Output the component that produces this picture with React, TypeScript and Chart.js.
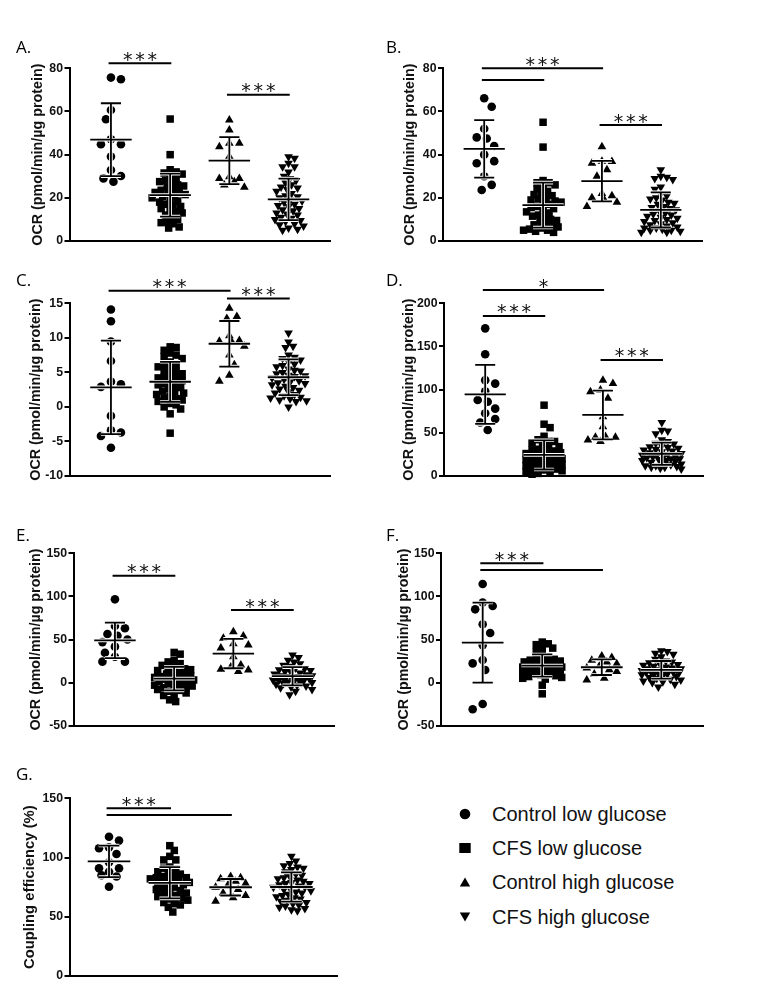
import React, { useEffect, useRef } from "react";
import { Chart, registerables } from "chart.js";

Chart.register(...registerables);

// ---------- data ----------
const groupNames = ["Control low glucose", "CFS low glucose", "Control high glucose", "CFS high glucose"];

const aCtrlLow = [75.7, 74.9, 60.7, 56.4, 47.1, 44.8, 44.8, 39.1, 32.9, 30.1, 29.0, 27.5];
const aCfsLow = [56.5, 40, 33, 32, 31.5, 31, 30, 29, 28, 27.5, 27, 26, 25.5, 25, 24, 23.5, 23, 22.5, 22, 21.5, 21, 20.5, 20, 19, 18.5, 18, 17, 16.5, 16, 15, 14, 13.5, 13, 12, 11, 10, 9, 8.5, 8, 6.5, 6];
const aCtrlHigh = [56.1, 51.4, 45.3, 45.3, 43.7, 39.1, 29.8, 29.0, 29.0, 27.5, 25.9, 24.9];
const aCfsHigh = [39, 38.3, 36, 34.4, 34.4, 32, 30, 29, 28, 27, 26, 25, 24.5, 24, 23, 22, 21, 20.5, 20, 19, 18.5, 18, 17, 16.5, 16, 15, 14.5, 14, 13, 12.5, 12, 11, 10.5, 10, 9.5, 9, 8, 7.5, 7, 6, 5.5, 5];

const bCtrlLow = [66.1, 62.2, 52, 48, 47.5, 44, 40, 37, 36, 30, 26, 23.6];
const bCfsLow = [55, 43.5, 28, 27, 27, 26, 25, 24, 23, 22, 21.5, 21, 20, 19.5, 19, 18.5, 18, 17.5, 17, 16, 15.5, 15, 14, 13.5, 13, 12, 11.5, 11, 10, 9.5, 9, 8, 7.5, 7, 6.5, 6, 5.5, 5, 5, 4.5, 4];
const bCtrlHigh = [43.7, 37, 36.8, 36, 33, 30, 22, 21, 20, 19, 18, 16];
const bCfsHigh = [33, 30, 29.5, 29, 28.5, 25, 24, 22, 21, 20, 19.5, 19, 18, 17.5, 17, 16, 15.5, 15, 14.5, 14, 13, 12.5, 12, 11.5, 11, 10.5, 10, 9.5, 9, 8.5, 8, 7.5, 7, 6.5, 6, 6, 5.5, 5, 5, 4.5, 4, 4];

const cCtrlLow = [14.1, 12.4, 9.45, 6.65, 3.66, 3.27, 2.9, -1.3, -3.4, -3.7, -4.2, -5.9];
const cCfsLow = [8.7, 8.6, 8.2, 7.8, 7.5, 7.3, 7, 6.5, 6.2, 6, 5.8, 5.5, 5.3, 5, 4.8, 4.5, 4.3, 4.2, 4, 3.8, 3.6, 3.4, 3.2, 3, 2.8, 2.6, 2.3, 2.1, 2, 1.8, 1.5, 1.3, 1.2, 1, 0.8, 0.5, 0.3, 0, -0.3, -1, -3.8];
const cCtrlHigh = [14.3, 13.1, 12.8, 10.3, 9.6, 9.5, 9.4, 8.8, 7.5, 6.1, 4.6, 3.7];
const cCfsHigh = [10.7, 9.4, 8.8, 8.6, 7.5, 7.2, 7, 6.8, 6.5, 6.2, 6, 5.8, 5.5, 5.3, 5.2, 5, 4.8, 4.6, 4.5, 4.4, 4.2, 4, 3.8, 3.6, 3.5, 3.4, 3.2, 3, 2.8, 2.6, 2.4, 2.2, 2, 1.8, 1.6, 1.4, 1.3, 1.2, 1, 0.9, 0.8, 0];

const dCtrlLow = [171, 141, 111, 107, 98, 88, 86, 78, 72.6, 66, 62, 53.3];
const dCfsLow = [82, 60, 56, 46, 42, 40, 40, 38, 36, 34, 33, 31, 30, 29, 28, 27, 26, 25, 24, 23, 22, 21, 20, 19, 18, 17, 16, 15, 14, 13, 12, 11, 10, 9, 8, 7, 6, 5, 4, 3, 2];
const dCtrlHigh = [111, 107, 99.6, 97.7, 90, 68.7, 57, 45.6, 45, 44.8, 41.7, 40];
const dCfsHigh = [62, 53, 52, 49, 42, 40, 38, 37, 35, 34, 33, 32, 31, 30, 29, 28, 27, 26, 25, 25, 24, 23, 22, 22, 21, 20, 20, 19, 18, 18, 17, 16, 15, 14, 13, 12, 12, 11, 10, 10, 9, 8];

const eCtrlLow = [96.6, 65.7, 63, 56.4, 54.4, 50, 47, 41.7, 34.7, 30, 24.3, 24.3];
const eCfsLow = [35, 33, 26, 24, 22, 20, 18, 17, 16, 15, 14, 12, 11, 10, 9, 8, 7, 6, 5, 5, 4, 3, 3, 2, 1, 0, -1, -2, -3, -4, -5, -6, -7, -8, -9, -10, -12, -14, -15, -20, -22];
const eCtrlHigh = [59, 54, 51.4, 45, 43.6, 40, 30, 20.4, 18, 15.4, 14.6, 13];
const eCfsHigh = [32, 29, 26, 24, 22, 20, 19, 17, 16, 15, 14, 13, 12, 11, 10, 9, 8, 8, 7, 7, 6, 6, 6, 5, 5, 4, 4, 3, 3, 2, 1, 0, 0, -1, -2, -3, -4, -5, -6, -8, -10, -14];

const fCtrlLow = [114.4, 93, 88.8, 85, 67.6, 57.6, 43.5, 26.2, 22.3, 14.6, -24.9, -31];
const fCfsLow = [47, 45, 44, 40, 40, 36, 32, 30, 28, 27, 26, 25, 25, 24, 23, 22, 22, 21, 20, 20, 19, 18, 18, 17, 16, 15, 15, 14, 13, 12, 12, 11, 10, 9, 8, 7, 6, 5, 4, -3, -13];
const fCtrlHigh = [31, 29, 26, 24, 22, 19, 17, 15, 13, 10, 5, 3];
const fCfsHigh = [37, 36, 34, 33, 30, 27, 25, 24, 23, 22, 21, 20, 19, 18, 17, 16, 16, 15, 15, 14, 14, 14, 13, 13, 12, 12, 12, 11, 10, 10, 9, 8, 7, 6, 5, 4, 3, 2, 1, 0, -2, -5];

const gCtrlLow = [117.6, 114.3, 108.6, 107.8, 103, 96, 91, 91, 88, 85, 84, 75.4];
const gCfsLow = [110, 106, 101, 98, 98, 92, 91, 90, 88, 87, 86, 85, 84, 83, 83, 82, 82, 81, 80, 80, 79, 78, 77, 76, 75, 74, 73, 72, 71, 70, 69, 68, 67, 66, 65, 64, 62, 61, 60, 58, 54];
const gCtrlHigh = [84, 83, 82, 80, 78, 77, 75, 73, 70, 68, 66, 63];
const gCfsHigh = [101, 97, 95, 93, 92, 91, 90, 88, 86, 85, 84, 83, 82, 81, 80, 79, 78, 78, 77, 76, 75, 75, 74, 73, 72, 71, 70, 69, 68, 67, 66, 65, 64, 63, 62, 61, 60, 59, 58, 57, 56, 55];

// significance annotations: group indices and bar height (data units)
const sigA = [{ from: 1, to: 2, y: 82.3, label: "***" }, { from: 3, to: 4, y: 67.7, label: "***" }];
const sigB = [{ from: 1, to: 3, y: 80, label: "***" }, { from: 1, to: 2, y: 74.6, label: "" }, { from: 3, to: 4, y: 53.7, label: "***" }];
const sigC = [{ from: 1, to: 3, y: 16.83, label: "***" }, { from: 3, to: 4, y: 15.68, label: "***" }];
const sigD = [{ from: 1, to: 3, y: 215.4, label: "*" }, { from: 1, to: 2, y: 185.3, label: "***" }, { from: 3, to: 4, y: 134.4, label: "***" }];
const sigE = [{ from: 1, to: 2, y: 124.1, label: "***" }, { from: 3, to: 4, y: 84.2, label: "***" }];
const sigF = [{ from: 1, to: 2, y: 138.4, label: "***" }, { from: 1, to: 3, y: 130.7, label: "" }];
const sigG = [{ from: 1, to: 2, y: 141.6, label: "***" }, { from: 1, to: 3, y: 135.9, label: "" }];

const ocrTitle = "OCR (pmol/min/µg protein)";
const ceTitle = "Coupling efficiency (%)";

// ---------- styling / layout ----------
const FONT = '"Liberation Sans", Arial, Helvetica, sans-serif';
const STAR_FONT = '"DejaVu Sans", sans-serif';
const STYLES = ["circle", "rect", "triangle", "triangle"];
const ROT = [0, 0, 0, 180];
const RADII = [4.3, 5.3, 5, 5];
const SWARM_DIAM = [10, 6, 10, 6];
const SWARM_MAX = [14, 20, 16, 20];

const PANELS = [
  { label: "A.", lx: 16, ly: 38, groups: [aCtrlLow, aCfsLow, aCtrlHigh, aCfsHigh], yMin: 0, yMax: 80, step: 20, title: ocrTitle, titleSize: 14.3, sig: sigA,
    L: { cx: 0, cy: 28, cw: 365, ch: 230, axisX: 69.5, right: 330, top: 68.3, bottom: 241, titleX: 38, xMin: 0.3, xMax: 4.7 } },
  { label: "B.", lx: 386, ly: 38, groups: [bCtrlLow, bCfsLow, bCtrlHigh, bCfsHigh], yMin: 0, yMax: 80, step: 20, title: ocrTitle, titleSize: 14.3, sig: sigB,
    L: { cx: 365, cy: 28, cw: 396, ch: 230, axisX: 443, right: 702, top: 68.3, bottom: 241, titleX: 410, xMin: 0.3, xMax: 4.7 } },
  { label: "C.", lx: 16, ly: 270.6, groups: [cCtrlLow, cCfsLow, cCtrlHigh, cCfsHigh], yMin: -10, yMax: 15, step: 5, title: ocrTitle, titleSize: 14.3, sig: sigC,
    L: { cx: 0, cy: 262, cw: 365, ch: 230, axisX: 69.5, right: 330, top: 303.3, bottom: 476, titleX: 36, xMin: 0.3, xMax: 4.7 } },
  { label: "D.", lx: 386, ly: 270.6, groups: [dCtrlLow, dCfsLow, dCtrlHigh, dCfsHigh], yMin: 0, yMax: 200, step: 50, title: ocrTitle, titleSize: 14.3, sig: sigD,
    L: { cx: 365, cy: 262, cw: 396, ch: 230, axisX: 444, right: 703, top: 303.3, bottom: 476, titleX: 409.5, xMin: 0.3, xMax: 4.7 } },
  { label: "E.", lx: 16, ly: 525.6, groups: [eCtrlLow, eCfsLow, eCtrlHigh, eCfsHigh], yMin: -50, yMax: 150, step: 50, title: ocrTitle, titleSize: 14.3, sig: sigE,
    L: { cx: 0, cy: 515, cw: 365, ch: 230, axisX: 73.5, right: 334, top: 553.3, bottom: 725.7, titleX: 36.5, xMin: 0.3, xMax: 4.7 } },
  { label: "F.", lx: 386, ly: 525.6, groups: [fCtrlLow, fCfsLow, fCtrlHigh, fCfsHigh], yMin: -50, yMax: 150, step: 50, title: ocrTitle, titleSize: 14.3, sig: sigF,
    L: { cx: 365, cy: 515, cw: 396, ch: 230, axisX: 441, right: 703, top: 553.3, bottom: 725.7, titleX: 404.5, xMin: 0.3, xMax: 4.7 } },
  { label: "G.", lx: 16, ly: 765, groups: [gCtrlLow, gCfsLow, gCtrlHigh, gCfsHigh], yMin: 0, yMax: 150, step: 50, title: ceTitle, titleSize: 14.8, sig: sigG,
    L: { cx: 0, cy: 752, cw: 365, ch: 247, axisX: 69.5, right: 337, top: 798.3, bottom: 976, titleX: 30, xMin: 0.35, xMax: 4.75 } },
];

function meanSd(v: number[]) {
  const n = v.length;
  const m = v.reduce((a, b) => a + b, 0) / n;
  const sd = Math.sqrt(v.reduce((a, b) => a + (b - m) * (b - m), 0) / (n - 1));
  return [m, sd];
}

// deterministic beeswarm layout: horizontal offsets (px) limited to a max spread
function swarm(values: number[], g: number, pxX: number, pxY: number, diam: number, maxOff: number) {
  const idx = values.map((_, i) => i).sort((a, b) => values[b] - values[a]);
  const placed: { x: number; y: number }[] = [];
  const pts: { x: number; y: number }[] = new Array(values.length);
  const stepPx = diam * 0.25;
  const kMax = Math.floor(maxOff / stepPx) * 2;
  let flip = 1;
  for (const i of idx) {
    const py = values[i] * pxY;
    let best = 0;
    let bestD = -1;
    let found = false;
    for (let k = 0; k <= kMax; k++) {
      const cand = k === 0 ? 0 : (k % 2 === 1 ? flip : -flip) * Math.ceil(k / 2) * stepPx;
      let minD = Infinity;
      for (const p of placed) {
        const d = Math.sqrt((p.x - cand) ** 2 + (p.y - py) ** 2);
        if (d < minD) minD = d;
      }
      if (minD >= diam) { best = cand; found = true; break; }
      if (minD > bestD + 0.01) { bestD = minD; best = cand; }
    }
    if (!found && placed.length === 0) best = 0;
    if (best !== 0) flip = -flip;
    placed.push({ x: best, y: py });
    pts[i] = { x: g + best / pxX, y: values[i] };
  }
  return pts;
}

function buildConfig(p: any) {
  const L = p.L;
  const pxX = (L.right - L.axisX) / (L.xMax - L.xMin);
  const pxY = (L.bottom - L.top) / (p.yMax - p.yMin);
  const padL = L.titleX - L.cx - p.titleSize * 0.6;
  const yW = L.axisX - L.cx - padL;

  const datasets = p.groups.map((vals: number[], gi: number) => ({
    label: groupNames[gi],
    data: swarm(vals, gi + 1, pxX, pxY, SWARM_DIAM[gi], SWARM_MAX[gi]),
    pointStyle: STYLES[gi],
    pointRotation: ROT[gi],
    pointRadius: RADII[gi],
    pointBackgroundColor: "#000",
    pointBorderWidth: 0,
    backgroundColor: "#000",
    borderColor: "#000",
    showLine: false,
    clip: false,
  }));

  const errorBars = {
    id: "errorBars",
    afterDatasetsDraw(chart: any) {
      const { ctx, scales } = chart;
      const x = scales.x, y = scales.y;
      const segs: number[][] = [];
      p.groups.forEach((vals: number[], gi: number) => {
        const g = gi + 1;
        const [m, sd] = meanSd(vals);
        segs.push([g - 0.35, m, g + 0.35, m]);
        segs.push([g - 0.17, m + sd, g + 0.17, m + sd]);
        segs.push([g - 0.17, m - sd, g + 0.17, m - sd]);
        segs.push([g, m - sd, g, m + sd]);
      });
      ctx.save();
      for (const pass of [{ c: "#fff", w: 3.6 }, { c: "#000", w: 1.8 }]) {
        ctx.strokeStyle = pass.c;
        ctx.lineWidth = pass.w;
        ctx.beginPath();
        for (const [x1, y1, x2, y2] of segs) {
          ctx.moveTo(x.getPixelForValue(x1), y.getPixelForValue(y1));
          ctx.lineTo(x.getPixelForValue(x2), y.getPixelForValue(y2));
        }
        ctx.stroke();
      }
      ctx.restore();
    },
  };

  const sigBars = {
    id: "sigBars",
    afterDraw(chart: any) {
      const { ctx, scales } = chart;
      const x = scales.x, y = scales.y;
      ctx.save();
      for (const b of p.sig) {
        const x1 = x.getPixelForValue(b.from - 0.04);
        const x2 = x.getPixelForValue(b.to + 0.02);
        const py = y.getPixelForValue(b.y);
        ctx.strokeStyle = "#000";
        ctx.lineWidth = 2;
        ctx.beginPath();
        ctx.moveTo(x1, py);
        ctx.lineTo(x2, py);
        ctx.stroke();
        if (b.label) {
          ctx.fillStyle = "#111";
          ctx.font = `19px ${STAR_FONT}`;
          ctx.textAlign = "center";
          ctx.textBaseline = "alphabetic";
          (ctx as any).letterSpacing = "2.8px";
          ctx.fillText(b.label, (x1 + x2) / 2 + 1.4, py + 2.5);
          (ctx as any).letterSpacing = "0px";
        }
      }
      ctx.restore();
    },
  };

  return {
    type: "scatter",
    data: { datasets },
    options: {
      animation: false,
      responsive: false,
      maintainAspectRatio: false,
      events: [],
      layout: {
        padding: { left: padL, top: L.top - L.cy, right: L.cx + L.cw - L.right, bottom: L.cy + L.ch - L.bottom },
      },
      plugins: { legend: { display: false }, tooltip: { enabled: false }, title: { display: false } },
      scales: {
        x: {
          type: "linear",
          min: L.xMin,
          max: L.xMax,
          ticks: { display: false },
          grid: { display: false },
          border: { display: true, color: "#000", width: 2 },
          afterFit: (s: any) => { s.height = 0; },
        },
        y: {
          type: "linear",
          min: p.yMin,
          max: p.yMax,
          ticks: { stepSize: p.step, color: "#111", padding: 1.5, font: { family: FONT, size: 12.3, weight: "bold" } },
          grid: { display: true, drawOnChartArea: false, drawTicks: true, tickLength: 5, color: "#000", lineWidth: 2 },
          border: { display: true, color: "#000", width: 2 },
          title: { display: true, text: p.title, color: "#111", padding: 0, font: { family: FONT, size: p.titleSize, weight: "bold", lineHeight: 1.2 } },
          afterFit: (s: any) => { s.width = yW; },
        },
      },
    },
    plugins: [errorBars, sigBars],
  };
}

function Panel({ p }: { p: any }) {
  const ref = useRef<HTMLCanvasElement>(null);
  useEffect(() => {
    const chart = new Chart(ref.current as HTMLCanvasElement, buildConfig(p) as any);
    return () => chart.destroy();
  }, [p]);
  const L = p.L;
  return (
    <canvas
      ref={ref}
      width={L.cw}
      height={L.ch}
      style={{ position: "absolute", left: L.cx, top: L.cy, width: L.cw, height: L.ch }}
    />
  );
}

function Marker({ gi }: { gi: number }) {
  const s = 14;
  let shape: any;
  if (gi === 0) shape = <circle cx={7} cy={7} r={5.3} fill="#000" />;
  else if (gi === 1) shape = <rect x={1.3} y={2} width={11.4} height={10} fill="#000" />;
  else if (gi === 2) shape = <polygon points="7,2.5 12.2,11.5 1.8,11.5" fill="#000" />;
  else shape = <polygon points="1.8,2.5 12.2,2.5 7,11.5" fill="#000" />;
  return (
    <svg width={s} height={s} style={{ position: "absolute", left: 458, top: -7 }}>
      {shape}
    </svg>
  );
}

const legendRows = [814, 848, 882, 916.5];

export default function App() {
  return (
    <div style={{ position: "absolute", left: 0, top: 0, width: 761, height: 999, background: "#fff", overflow: "hidden" }}>
      {PANELS.map((p) => (
        <Panel key={p.label} p={p} />
      ))}
      {PANELS.map((p) => (
        <div
          key={"lab" + p.label}
          style={{ position: "absolute", left: p.lx, top: p.ly, fontFamily: '"Open Sans", sans-serif', fontSize: 17, lineHeight: "17px", color: "#000", whiteSpace: "nowrap" }}
        >
          {p.label}
        </div>
      ))}
      {groupNames.map((name, gi) => (
        <div key={name} style={{ position: "absolute", left: 0, top: legendRows[gi], width: 761, height: 0 }}>
          <Marker gi={gi} />
          <div
            style={{ position: "absolute", left: 492, top: -9.8, fontFamily: FONT, fontSize: 20, lineHeight: "20px", color: "#111", whiteSpace: "nowrap" }}
          >
            {name}
          </div>
        </div>
      ))}
    </div>
  );
}
